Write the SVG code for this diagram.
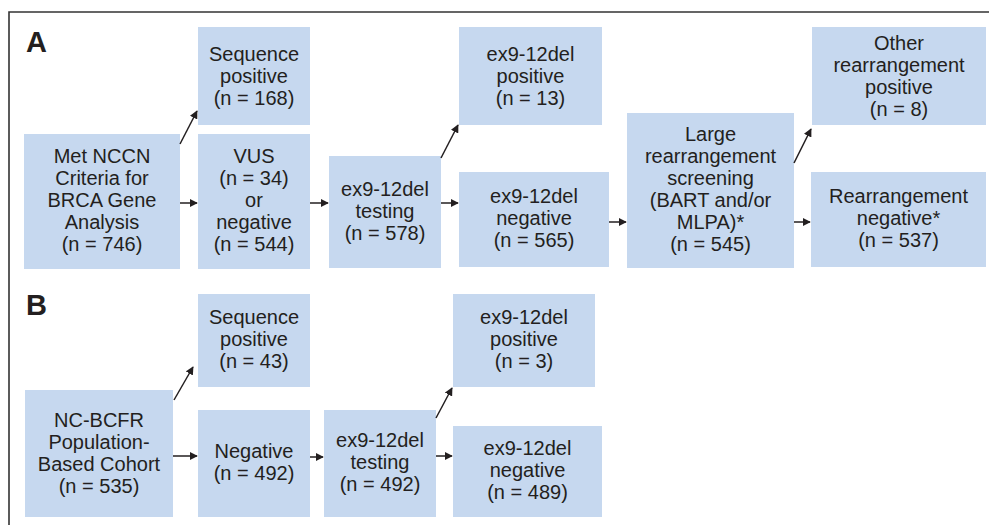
<svg xmlns="http://www.w3.org/2000/svg" width="989" height="525" viewBox="0 0 989 525">
  <defs>
    <style>
      .box { fill: #c6d8ef; }
      .lbl { font-family: "Liberation Sans", Arial, sans-serif; font-size: 20px; fill: #231f20; text-anchor: middle; }
      .panel { font-family: "Liberation Sans", Arial, sans-serif; font-size: 29px; font-weight: bold; fill: #231f20; }
      .edge { stroke: #231f20; stroke-width: 1.5; fill: none; marker-end: url(#arrow); }
      .frame { stroke: #333; stroke-width: 1.6; fill: none; }
    </style>
    <marker id="arrow" viewBox="0 0 10 10" refX="9" refY="5" markerWidth="5.5" markerHeight="5.5" orient="auto" markerUnits="strokeWidth">
      <path d="M0,0 L10,5 L0,10 z" fill="#231f20"/>
    </marker>
  </defs>

  <rect width="989" height="525" fill="#ffffff"/>
  <path class="frame" d="M9,525 V12 H989"/>

  <text class="panel" x="26" y="52">A</text>
  <text class="panel" x="26" y="315">B</text>

  <!-- Panel A -->
  <g id="a-met-nccn">
    <rect class="box" x="24" y="134" width="156" height="135"/>
    <text class="lbl" x="102" y="163">Met NCCN<tspan x="102" dy="22">Criteria for</tspan><tspan x="102" dy="22">BRCA Gene</tspan><tspan x="102" dy="22">Analysis</tspan><tspan x="102" dy="22">(n = 746)</tspan></text>
  </g>
  <g id="a-seq-pos">
    <rect class="box" x="198" y="27" width="112" height="98"/>
    <text class="lbl" x="254" y="61">Sequence<tspan x="254" dy="22">positive</tspan><tspan x="254" dy="22">(n = 168)</tspan></text>
  </g>
  <g id="a-vus">
    <rect class="box" x="198" y="134" width="112" height="135"/>
    <text class="lbl" x="254" y="163">VUS<tspan x="254" dy="22">(n = 34)</tspan><tspan x="254" dy="22">or</tspan><tspan x="254" dy="22">negative</tspan><tspan x="254" dy="22">(n = 544)</tspan></text>
  </g>
  <g id="a-ex-testing">
    <rect class="box" x="329" y="156" width="112" height="112"/>
    <text class="lbl" x="385" y="196">ex9-12del<tspan x="385" dy="22">testing</tspan><tspan x="385" dy="22">(n = 578)</tspan></text>
  </g>
  <g id="a-ex-pos">
    <rect class="box" x="459" y="27" width="143" height="98"/>
    <text class="lbl" x="530.5" y="61">ex9-12del<tspan x="530.5" dy="22">positive</tspan><tspan x="530.5" dy="22">(n = 13)</tspan></text>
  </g>
  <g id="a-ex-neg">
    <rect class="box" x="459" y="172" width="150" height="95"/>
    <text class="lbl" x="534" y="203">ex9-12del<tspan x="534" dy="22">negative</tspan><tspan x="534" dy="22">(n = 565)</tspan></text>
  </g>
  <g id="a-large">
    <rect class="box" x="627" y="113" width="167" height="155"/>
    <text class="lbl" x="710.5" y="141">Large<tspan x="710.5" dy="22">rearrangement</tspan><tspan x="710.5" dy="22">screening</tspan><tspan x="710.5" dy="22">(BART and/or</tspan><tspan x="710.5" dy="22">MLPA)*</tspan><tspan x="710.5" dy="22">(n = 545)</tspan></text>
  </g>
  <g id="a-other-pos">
    <rect class="box" x="812" y="27" width="174" height="98"/>
    <text class="lbl" x="899" y="50">Other<tspan x="899" dy="22">rearrangement</tspan><tspan x="899" dy="22">positive</tspan><tspan x="899" dy="22">(n = 8)</tspan></text>
  </g>
  <g id="a-rearr-neg">
    <rect class="box" x="811" y="172" width="175" height="95"/>
    <text class="lbl" x="898.5" y="203">Rearrangement<tspan x="898.5" dy="22">negative*</tspan><tspan x="898.5" dy="22">(n = 537)</tspan></text>
  </g>

  <!-- Panel B -->
  <g id="b-ncbcfr">
    <rect class="box" x="25" y="390" width="148" height="127"/>
    <text class="lbl" x="99" y="427">NC-BCFR<tspan x="99" dy="22">Population-</tspan><tspan x="99" dy="22">Based Cohort</tspan><tspan x="99" dy="22">(n = 535)</tspan></text>
  </g>
  <g id="b-seq-pos">
    <rect class="box" x="198" y="294" width="112" height="93"/>
    <text class="lbl" x="254" y="324">Sequence<tspan x="254" dy="22">positive</tspan><tspan x="254" dy="22">(n = 43)</tspan></text>
  </g>
  <g id="b-negative">
    <rect class="box" x="198" y="410" width="112" height="107"/>
    <text class="lbl" x="254" y="458">Negative<tspan x="254" dy="22">(n = 492)</tspan></text>
  </g>
  <g id="b-ex-testing">
    <rect class="box" x="324" y="410" width="112" height="107"/>
    <text class="lbl" x="380" y="447">ex9-12del<tspan x="380" dy="22">testing</tspan><tspan x="380" dy="22">(n = 492)</tspan></text>
  </g>
  <g id="b-ex-pos">
    <rect class="box" x="453" y="294" width="142" height="93"/>
    <text class="lbl" x="524" y="324">ex9-12del<tspan x="524" dy="22">positive</tspan><tspan x="524" dy="22">(n = 3)</tspan></text>
  </g>
  <g id="b-ex-neg">
    <rect class="box" x="453" y="426" width="149" height="91"/>
    <text class="lbl" x="527.5" y="455">ex9-12del<tspan x="527.5" dy="22">negative</tspan><tspan x="527.5" dy="22">(n = 489)</tspan></text>
  </g>

  <!-- Connectors -->
  <g id="connectors">
    <line class="edge" x1="180" y1="144" x2="197" y2="111"/>
    <line class="edge" x1="180" y1="203" x2="197" y2="203"/>
    <line class="edge" x1="310" y1="203" x2="328" y2="203"/>
    <line class="edge" x1="441" y1="158" x2="458" y2="125"/>
    <line class="edge" x1="441" y1="203" x2="458" y2="203"/>
    <line class="edge" x1="609" y1="222" x2="626" y2="222"/>
    <line class="edge" x1="794" y1="163" x2="811" y2="129"/>
    <line class="edge" x1="794" y1="222" x2="810" y2="222"/>

    <line class="edge" x1="174" y1="400" x2="193" y2="367"/>
    <line class="edge" x1="173" y1="456" x2="197" y2="456"/>
    <line class="edge" x1="310" y1="457" x2="323" y2="457"/>
    <line class="edge" x1="436" y1="418" x2="452" y2="388"/>
    <line class="edge" x1="436" y1="456" x2="452" y2="456"/>
  </g>
</svg>
